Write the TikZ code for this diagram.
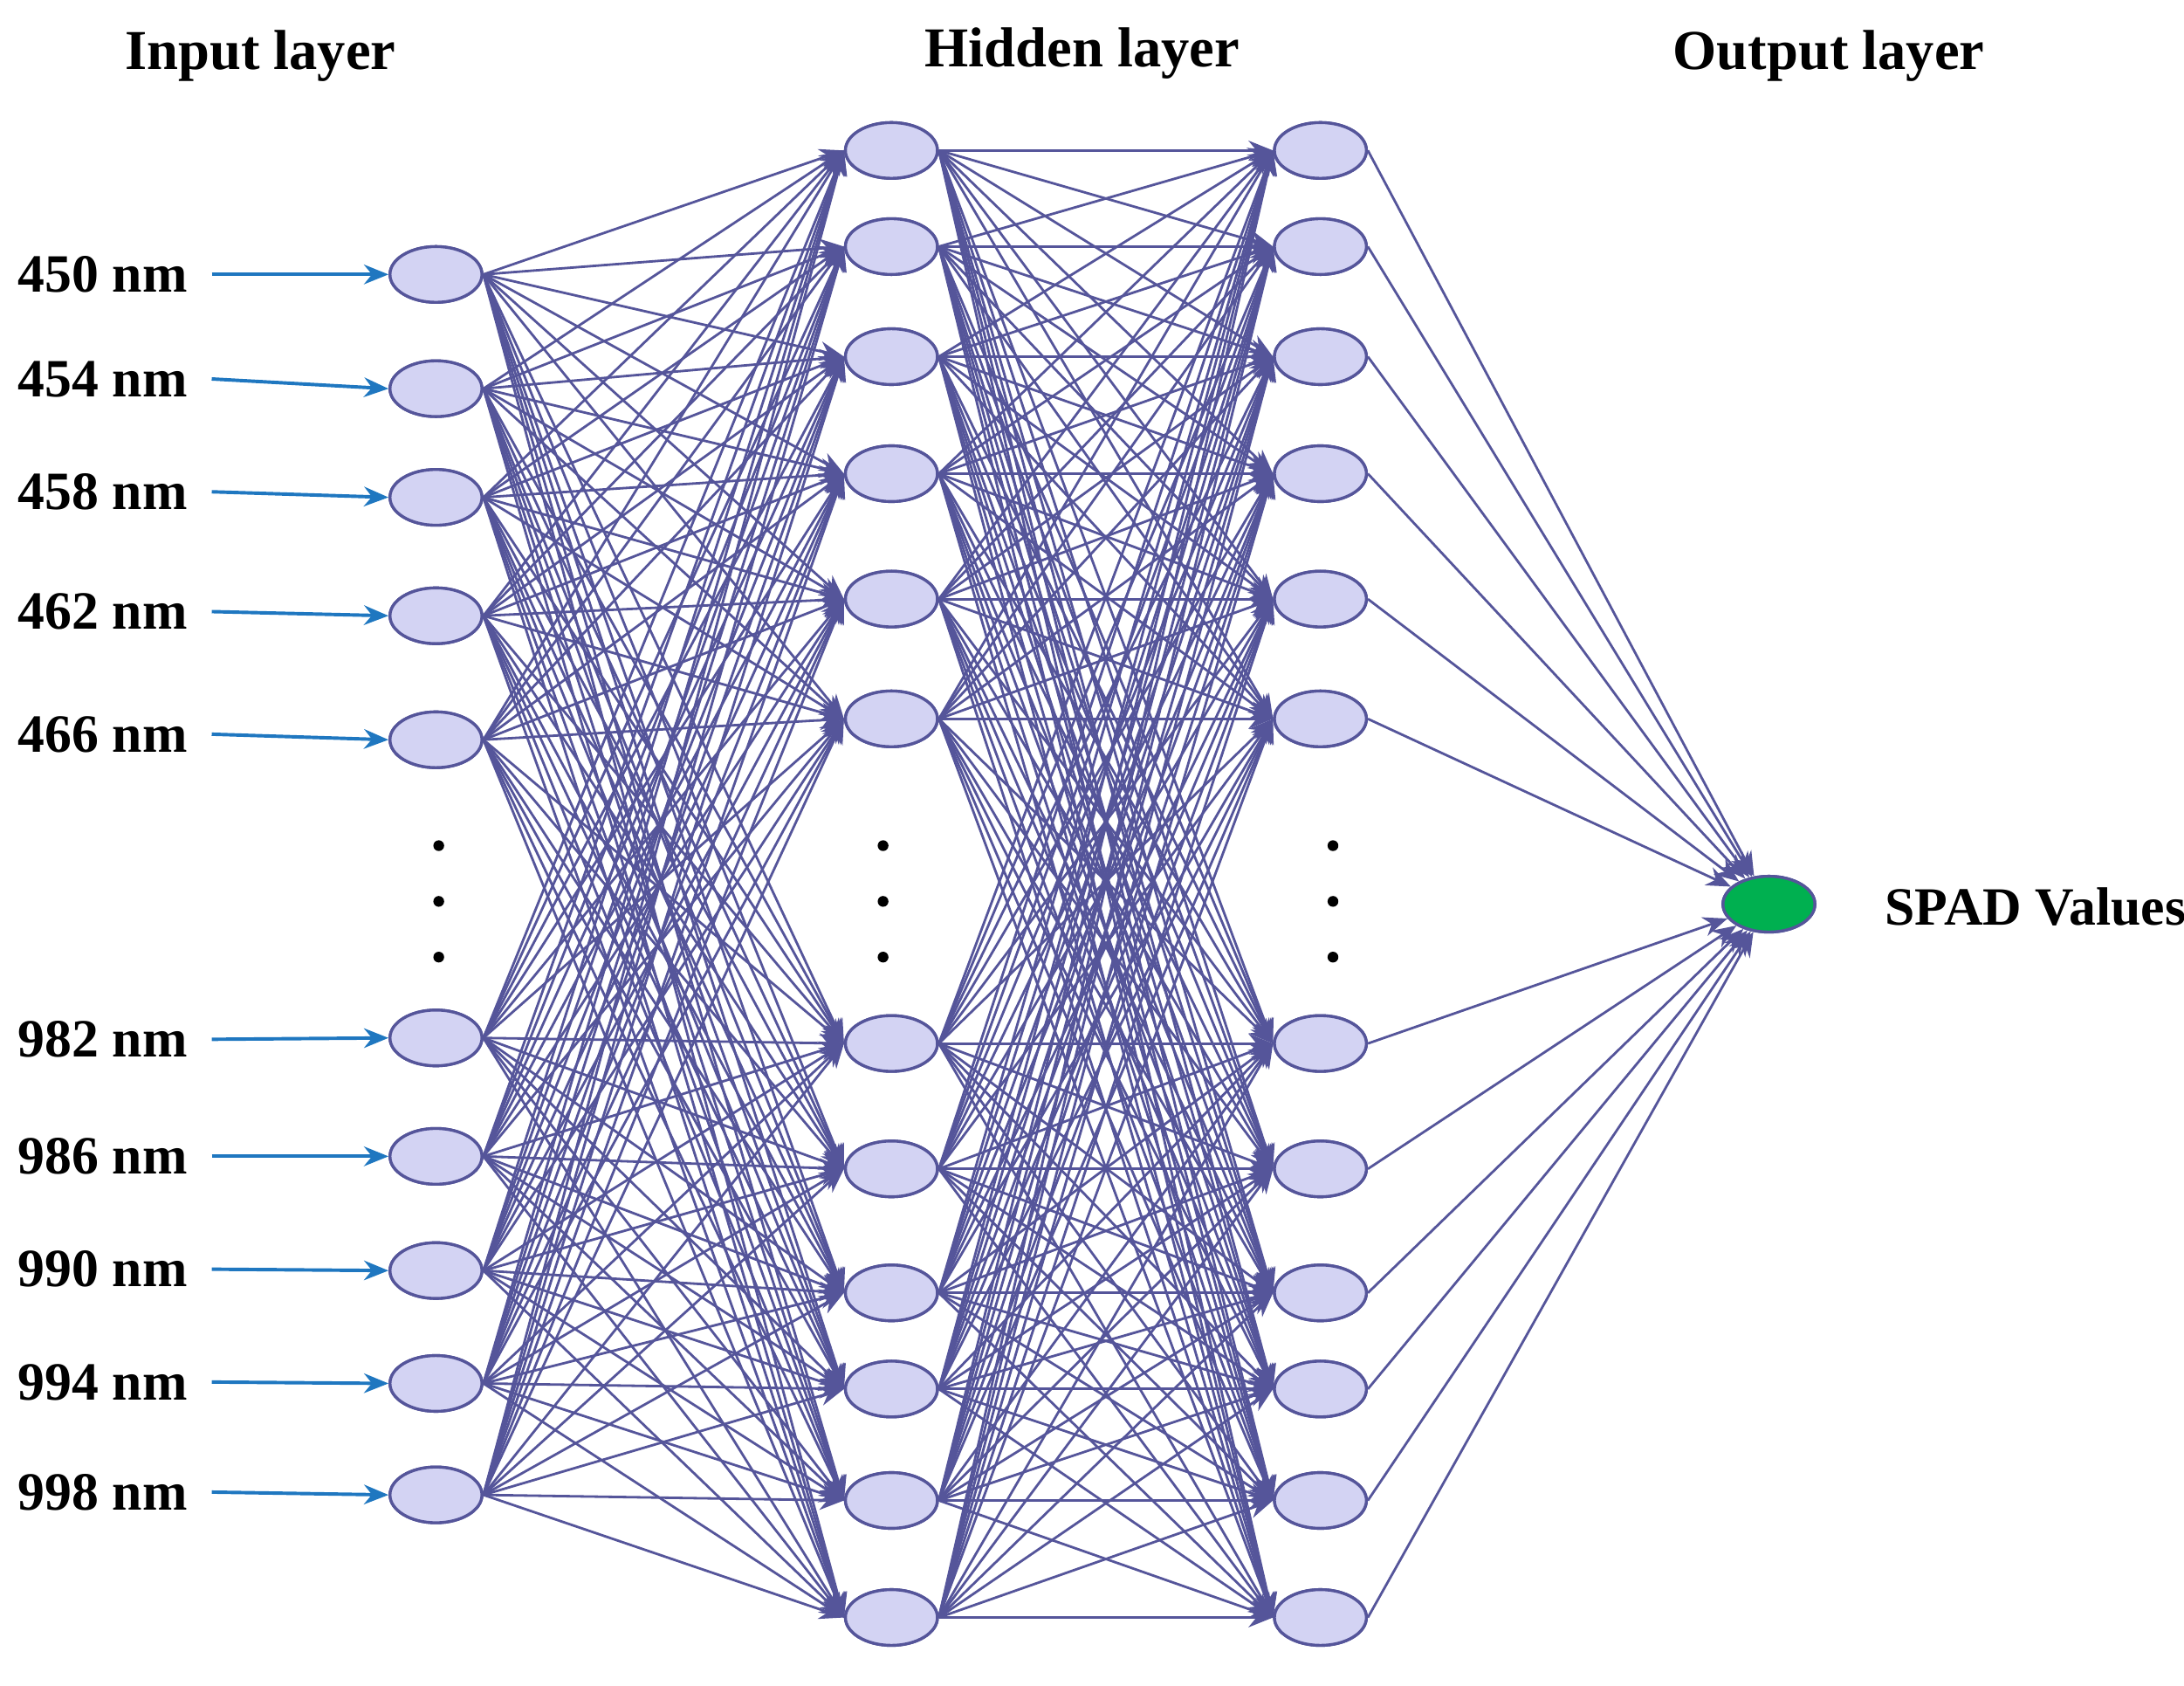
\documentclass[tikz,border=0pt]{standalone}
\usepackage{fontspec}
\setmainfont{Liberation Serif}
\usetikzlibrary{arrows.meta}
\definecolor{edge}{HTML}{55559A}
\definecolor{nfill}{HTML}{D3D3F3}
\definecolor{inarrow}{HTML}{1F77C0}
\definecolor{outg}{HTML}{00B050}
\begin{document}
\begin{tikzpicture}[x=0.01cm,y=-0.01cm,
  neuron/.style={ellipse,draw=edge,fill=nfill,line width=0.6pt,minimum width=0.66cm,minimum height=0.40cm,inner sep=0pt},
  conn/.style={draw=edge,line width=0.5pt,-{Stealth[length=5pt,width=4pt]}},
  inarr/.style={draw=inarrow,line width=0.7pt,-{Stealth[length=5pt,width=4pt]}},
  lbl/.style={font=\fontsize{11}{13}\selectfont\bfseries,anchor=east},
  ttl/.style={font=\fontsize{11.5}{13}\selectfont\bfseries},
  dot/.style={circle,fill=black,inner sep=0pt,minimum size=2.2pt}]
\useasboundingbox (0,0) rectangle (1568,1210);
\usetikzlibrary{shapes.geometric}
% input layer
\foreach \y [count=\i] in {197,279,357,442,531,745,830,912,993,1073}
  \node[neuron] (i\i) at (313,\y) {};
\foreach \y [count=\i] in {108,177,256,340,430,516,749,839,928,997,1077,1161}{
  \node[neuron] (a\i) at (640,\y) {};
  \node[neuron] (b\i) at (948,\y) {};}
\node[neuron,fill=outg] (o) at (1270,649) {};
% labels
\foreach \t/\y [count=\i] in {450/197,454/272,458/353,462/439,466/527,982/746,986/830,990/911,994/992,998/1071}{
  \node[lbl] (l\i) at (147,\y) {\t\ nm};
  \coordinate (s\i) at (152,\y);
  \draw[inarr] (s\i) -- (i\i.west);}
\node[ttl] (t1) at (187,40) {Input layer};
\node[ttl] (t2) at (777,38) {Hidden layer};
\node[ttl] (t3) at (1313,40) {Output layer};
\node[font=\fontsize{11}{13}\selectfont\bfseries,anchor=west] (sp) at (1341,651) {SPAD Values};
% dots
\foreach \x in {315,634,957}
  \foreach \y [count=\k] in {607,647,687}
    \node[dot] (d\x\k) at (\x,\y) {};
% connections
\foreach \i in {1,...,10}
  \foreach \j in {1,...,12}
    \draw[conn] (i\i.east) -- (a\j.west);
\foreach \i in {1,...,12}
  \foreach \j in {1,...,12}
    \draw[conn] (a\i.east) -- (b\j.west);
\foreach \i in {1,...,12}
  \draw[conn] (b\i.east) -- (o);
% redraw nodes on top
\foreach \i in {1,...,10} \node[neuron] at (i\i) {};
\foreach \i in {1,...,12}{\node[neuron] at (a\i) {};\node[neuron] at (b\i) {};}
\node[neuron,fill=outg] at (o) {};
\end{tikzpicture}
\end{document}
